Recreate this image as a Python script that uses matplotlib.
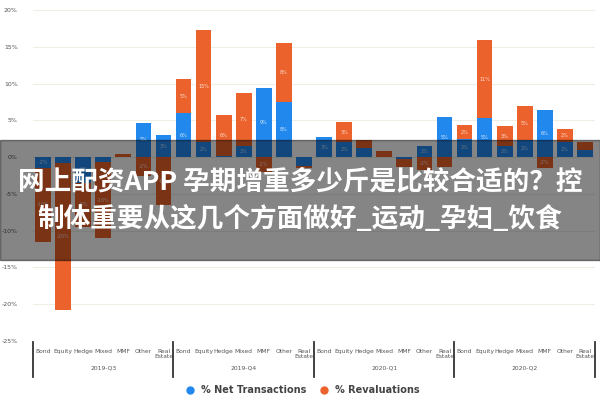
import numpy as np
import matplotlib
matplotlib.use("Agg")
import matplotlib.pyplot as plt
from matplotlib.lines import Line2D
from matplotlib.patches import Rectangle

# data (percent)
asset_types = ["Bond", "Equity", "Hedge", "Mixed", "MMF", "Other", "Real\nEstate"]
quarters = ["2019-Q3", "2019-Q4", "2020-Q1", "2020-Q2"]

net_transactions = [-1.5, -0.8, -3.5, -0.7, 0.0, 4.7, 3.0,
                    6.0, 2.0, 0.2, 1.5, 9.4, 7.5, -1.2,
                    2.7, 2.0, 1.3, 0.0, -0.3, 1.5, 5.4,
                    2.5, 5.3, 1.5, 2.3, 6.4, 2.0, 1.0]
revaluations = [-10.0, -20.0, -6.0, -10.3, 0.4, -2.5, -6.5,
                4.6, 15.3, 5.5, 7.2, -2.0, 8.0, -0.3,
                0.0, 2.8, 1.0, 0.8, -1.0, -1.8, -1.3,
                1.8, 10.6, 2.7, 4.6, -1.5, 1.8, 1.0]

y_ticks = [20, 15, 10, 5, 0, -5, -10, -15, -20, -25]

banner_lines = ["网上配资APP 孕期增重多少斤是比较合适的？控",
                "制体重要从这几个方面做好_运动_孕妇_饮食"]

blue = "#2188ee"
orange = "#ec622c"
label_col = "#555555"

fig = plt.figure(figsize=(6, 4), dpi=100)
ax = fig.add_axes([33 / 600, 1 - 341 / 400, 562 / 600, 331 / 400])

net = np.array(net_transactions)
rev = np.array(revaluations)
x = np.arange(len(net))
rev_bottom = np.where(np.sign(rev) == np.sign(net), net, 0)

ax.bar(x, net, width=0.78, color=blue, zorder=2)
ax.bar(x, rev, width=0.78, bottom=rev_bottom, color=orange, zorder=2)

# small labels inside the segments
for xi, v, b in zip(x, net, np.zeros_like(net)):
    if abs(v) >= 1.5:
        ax.text(xi, b + v / 2, f"{round(v):d}%", ha="center", va="center",
                fontsize=3.5, color="white", alpha=0.8, zorder=3)
for xi, v, b in zip(x, rev, rev_bottom):
    if abs(v) >= 1.5:
        ax.text(xi, b + v / 2, f"{round(v):d}%", ha="center", va="center",
                fontsize=3.5, color="white", alpha=0.8, zorder=3)

ax.set_xlim(-0.5, len(net) - 0.5)
ax.set_ylim(-25, 20)
ax.set_yticks(y_ticks)
ax.set_yticklabels([f"{t}%" for t in y_ticks])
ax.tick_params(axis="y", length=0, pad=11, labelsize=4.5, labelcolor=label_col)
for t in y_ticks:
    ax.axhline(t, color="#efefe6", lw=0.8, zorder=0)

ax.set_xticks(x)
ax.set_xticklabels(asset_types * len(quarters), linespacing=0.95)
ax.tick_params(axis="x", length=0, pad=6, labelsize=4.3, labelcolor=label_col)
for s in ax.spines.values():
    s.set_visible(False)

# group separators and quarter labels
trans = ax.get_xaxis_transform()
n = len(asset_types)
for g in range(len(quarters) + 1):
    ax.plot([g * n - 0.5] * 2, [-0.003, -0.109], transform=trans,
            color="#333333", lw=1.3, clip_on=False)
for g, q in enumerate(quarters):
    ax.text(g * n + (n - 1) / 2, -0.082, q, transform=trans, ha="center",
            va="center", fontsize=4.3, color=label_col)

handles = [Line2D([], [], marker="o", ls="", color=blue, markersize=5),
           Line2D([], [], marker="o", ls="", color=orange, markersize=5)]
leg = fig.legend(handles, ["% Net Transactions", "% Revaluations"],
                 loc="center", bbox_to_anchor=(0.5, 1 - 390 / 400), ncol=2,
                 frameon=False, handletextpad=0.1, columnspacing=0.8,
                 prop={"size": 7, "weight": "bold"})
for t in leg.get_texts():
    t.set_color("#444444")

# grey banner with title over the chart
fig.patches.append(Rectangle((0, 1 - 260 / 400), 1, 120 / 400,
                             transform=fig.transFigure, color="black",
                             alpha=0.48, zorder=5))
for i, line in enumerate(banner_lines):
    fig.text(0.5, 1 - (182 + 37 * i) / 400, line, ha="center", va="center",
             color="white", fontsize=19.2, fontweight="bold",
             family=["Noto Sans CJK SC", "DejaVu Sans"], zorder=6)

fig.savefig("out.png", dpi=100)
